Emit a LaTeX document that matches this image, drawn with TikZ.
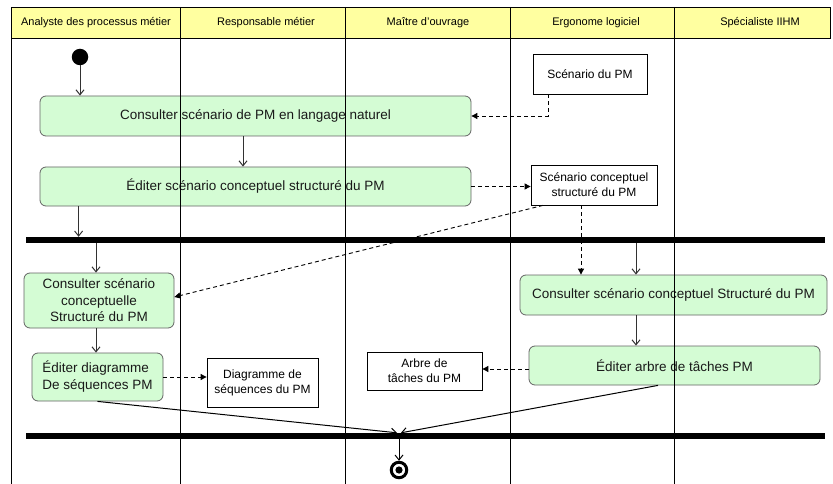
\documentclass[tikz,border=0pt]{standalone}
\usepackage{fontspec}
\setmainfont{Liberation Sans}
\usetikzlibrary{arrows.meta}
\definecolor{lanehead}{RGB}{255,255,160}
\definecolor{actfill}{RGB}{212,252,212}
\definecolor{actline}{RGB}{100,100,100}
\definecolor{linkgray}{RGB}{50,50,50}

\begin{document}
\begin{tikzpicture}[x=1pt,y=-1pt,
  lanetitle/.style={font=\fontsize{11}{13}\selectfont, inner sep=0pt},
  activity/.style={draw=actline, fill=actfill, rounded corners=6pt, line width=0.8pt,
    inner sep=2pt, align=center, font=\fontsize{13.5}{16.5}\selectfont, text=black!90},
  objbox/.style={draw=black, fill=white, line width=0.8pt, align=center,
    font=\fontsize{12}{15}\selectfont, inner sep=2pt},
  syncbar/.style={fill=black, inner sep=0pt, minimum height=6pt, minimum width=799pt},
  ctrl/.style={draw=linkgray, line width=1pt, -{Straight Barb[length=5pt,width=8pt]}},
  dep/.style={draw=black, line width=0.9pt, dash pattern=on 4pt off 3pt,
    -{Triangle[length=6pt,width=6pt]}},
  lane/.style={draw=black, line width=0.8pt},
]
\useasboundingbox (0,0) rectangle (833,484);
\fill[white] (0,0) rectangle (833,484);

% swimlane header
\fill[lanehead] (11,7) rectangle (830,38);
\node[lanetitle] (h1) at (96,22.5)  {Analyste des processus métier};
\node[lanetitle] (h2) at (266,22.5) {Responsable métier};
\node[lanetitle] (h3) at (428,22.5) {Maître d'ouvrage};
\node[lanetitle] (h4) at (596,22.5) {Ergonome logiciel};
\node[lanetitle] (h5) at (760,22.5) {Spécialiste IIHM};

% start node
\node[circle, fill=black, inner sep=0pt, minimum size=16.5pt] (init) at (80,57) {};

% activities
\node[activity, minimum width=431pt, minimum height=40pt] (consult) at (255.5,116)
  {Consulter scénario de PM en langage naturel};
\node[activity, minimum width=431pt, minimum height=39pt] (editscen) at (255.5,186.5)
  {Éditer scénario conceptuel structuré du PM};
\node[activity, minimum width=150pt, minimum height=55pt] (consultA) at (99,300.5)
  {Consulter scénario\\conceptuelle\\Structuré du PM};
\node[activity, minimum width=307pt, minimum height=40pt] (consultE) at (673.5,295)
  {Consulter scénario conceptuel Structuré du PM};
\node[activity, minimum width=291pt, minimum height=39pt] (editTree) at (674.5,365.5)
  {Éditer arbre de tâches PM};
\node[activity, minimum width=131pt, minimum height=48pt, align=left,
  font=\fontsize{13.5}{17}\selectfont] (editSeq) at (97.5,377)
  {Éditer diagramme\\De séquences PM};

% object nodes
\node[objbox, minimum width=114pt, minimum height=40pt] (scenPM) at (590,74)
  {Scénario du PM};
\node[objbox, minimum width=126pt, minimum height=40pt] (scenConc) at (594,185)
  {Scénario conceptuel\\structuré du PM};
\node[objbox, minimum width=115pt, minimum height=38pt] (treeObj) at (424.5,371)
  {Arbre de\\tâches du PM};
\node[objbox, minimum width=111pt, minimum height=49pt] (seqObj) at (262.5,382.5)
  {Diagramme de\\séquences du PM};

% fork / join bars
\node[syncbar] (fork) at (425.5,240) {};
\node[syncbar] (join) at (425.5,436) {};

% final node
\node[circle, draw=black, line width=3pt, fill=white, inner sep=0pt,
  minimum size=15.5pt] (fin) at (399,470) {};
\fill[black] (fin.center) circle[radius=3.6pt];

% control flow
\draw[ctrl] (init) -- (init |- consult.north);
\draw[ctrl] ([xshift=-12.5pt]consult.south) -- ([xshift=-12.5pt]consult.south |- editscen.north);
\draw[ctrl] ([xshift=39pt]editscen.south west) -- ([xshift=39pt]editscen.south west |- fork.north);
\draw[ctrl] ([xshift=-3pt]consultA.north |- fork.south) -- ([xshift=-3pt]consultA.north);
\draw[ctrl] ([xshift=-37.5pt]consultE.north |- fork.south) -- ([xshift=-37.5pt]consultE.north);
\draw[ctrl] ([xshift=-3pt]consultA.south) -- ([xshift=-3pt]consultA.south |- editSeq.north);
\draw[ctrl] ([xshift=-37.5pt]consultE.south) -- ([xshift=-37.5pt]consultE.south |- editTree.north);
\draw[ctrl, draw=black] (editSeq.south) -- ([xshift=-2pt]fin.north |- join.north);
\draw[ctrl, draw=black] ([xshift=-16.5pt]editTree.south) -- ([xshift=2pt]fin.north |- join.north);
\draw[ctrl, draw=black] (fin.north |- join.south) -- (fin.north);

% object flow
\draw[dep] ([xshift=-42pt]scenPM.south) |- (consult.east);
\draw[dep] (editscen.east) -- (editscen.east -| scenConc.west);
\draw[dep] ([xshift=-51pt]scenConc.south) -- ([yshift=3.5pt]consultA.east);
\draw[dep] ([xshift=-13pt]scenConc.south) -- ([xshift=-13pt]scenConc.south |- consultE.north);
\draw[dep] ([yshift=-3.5pt]editTree.west) -- ([yshift=-3.5pt]editTree.west -| treeObj.east);
\draw[dep] (editSeq.east) -- (editSeq.east -| seqObj.west);

% swimlane borders, drawn over the content
\draw[lane] (11,7) rectangle (830,38);
\draw[lane] (11,38) -- (11,484);
\foreach \lx in {180,345,510,674} {
  \draw[lane] (\lx,7) -- (\lx,484);
}
\end{tikzpicture}
\end{document}
